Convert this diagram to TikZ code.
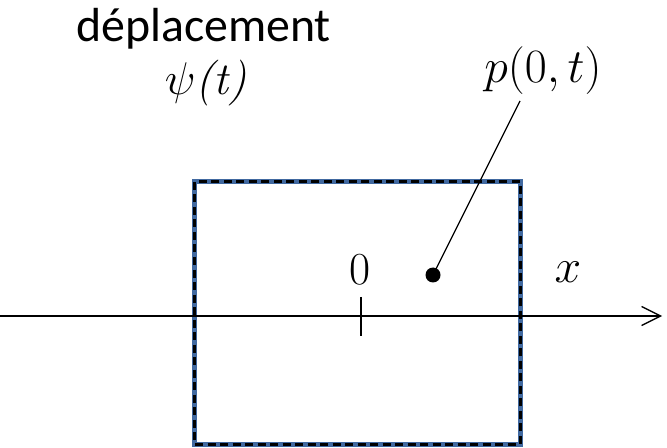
\RequirePackage{fix-cm}
\documentclass[tikz,border=0pt]{standalone}
\usepackage{fontspec}
\newfontfamily\carlito{Carlito}
\usetikzlibrary{arrows.meta}
\definecolor{boxblue}{RGB}{65,105,160}
\tikzset{
  lbl/.style={inner sep=0pt, anchor=base},
  axisline/.style={line width=1.3bp, -{Straight Barb[length=19bp,width=19bp,line width=1.3bp]}},
}
\begin{document}
\begin{tikzpicture}[x=1bp,y=-1bp]
\useasboundingbox (0,0) rectangle (667,448);
% box
\draw[boxblue, line width=5bp] (194.5,182) rectangle (520,444);
\draw[black, line width=3bp, dash pattern=on 8bp off 4.5bp] (194.5,182) rectangle (520,444);
% axis
\coordinate (xs) at (0,316);
\coordinate (xe) at (662,316);
\draw[axisline] (xs) -- (xe);
\coordinate (t1) at (361,297);
\coordinate (t2) at (361,336);
\draw[line width=1.3bp] (t1) -- (t2);
% labels
\node[lbl] (zero) at (360,285) {\fontsize{46}{52}\selectfont 0};
\node[lbl] (xl) at (568,283) {\fontsize{48}{52}\selectfont $x$};
\node[lbl] (dep) at (203.5,42) {\carlito\fontsize{48}{52}\selectfont déplacement};
\node[lbl] (psi) at (206,95) {\fontsize{46}{52}\selectfont $\psi$\textit{(t)}};
\node[lbl] (p) at (543,83) {\fontsize{48}{52}\selectfont $p(0,t)$};
% point
\node[circle, fill=black, inner sep=0pt, minimum size=15bp] (pt) at (433,275) {};
\coordinate (lt) at (520,101);
\draw[line width=1.3bp] (pt.center) -- (lt);
\end{tikzpicture}
\end{document}
